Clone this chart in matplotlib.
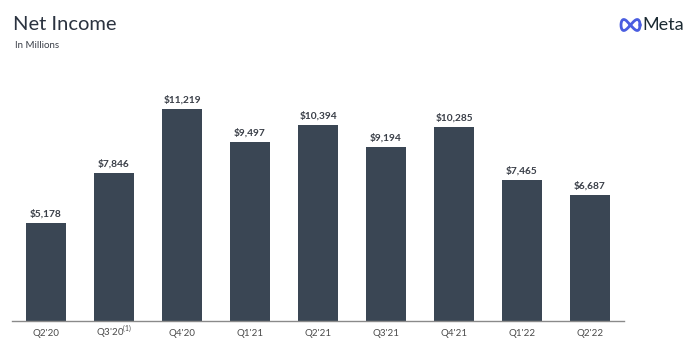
import matplotlib
matplotlib.use("Agg")
import matplotlib.pyplot as plt
import numpy as np

categories = ["Q2'20", "Q3'20$^{(1)}$", "Q4'20", "Q1'21", "Q2'21", "Q3'21", "Q4'21", "Q1'22", "Q2'22"]
values = [5178, 7846, 11219, 9497, 10394, 9194, 10285, 7465, 6687]
labels = ["$5,178", "$7,846", "$11,219", "$9,497", "$10,394", "$9,194", "$10,285", "$7,465", "$6,687"]

plt.rcParams['font.family'] = ['Lato', 'DejaVu Sans']
plt.rcParams['mathtext.fontset'] = 'custom'
plt.rcParams['mathtext.rm'] = 'Lato'

fig = plt.figure(figsize=(7, 3.49), dpi=100)
ax = fig.add_axes([12/700, 28/349, 612/700, 231/349])

bar_color = '#3a4654'
x = np.arange(len(values))
bars = ax.bar(x, values, width=0.59, color=bar_color, zorder=2)
for xi, v, lab in zip(x, values, labels):
    ax.annotate(lab.replace('$', r'\$'), (xi, v), xytext=(0, 3), textcoords='offset points',
                ha='center', va='bottom', fontsize=7.3, fontweight='bold', color='#3a3f48')

ax.set_xlim(-0.5, 8.5)
ax.set_ylim(0, 12222)
for s in ['top', 'right', 'left']:
    ax.spines[s].set_visible(False)
ax.spines['bottom'].set_color('#8a8a8a')
ax.spines['bottom'].set_linewidth(1.0)
ax.set_yticks([])
ax.set_xticks(x)
ax.set_xticklabels(categories, fontsize=7, color='#4a4a4a')
for lbl in ax.get_xticklabels():
    lbl.set_va('baseline')
ax.tick_params(axis='x', length=0, pad=10.5)

fig.text(13/700, 1 - 25/349, "Net Income", fontsize=14.5, color='#2b3340', va='center', ha='left')
fig.text(15/700, 1 - 46/349, "In Millions", fontsize=7, color='#3a3f48', va='center', ha='left')

# Meta logo
t = np.linspace(0, 2*np.pi, 400)
lx = 630.5 + 9.5 * np.cos(t)
ly = 25 + 5.5 * np.sin(2*t)
fig.add_artist(plt.Line2D(lx/700, 1 - ly/349, color='#4a5de0', lw=2.0, transform=fig.transFigure))
fig.text(642/700, 1 - 25/349, "Meta", fontsize=13, color='#1c2b33', va='center', ha='left')

fig.savefig("out.png", dpi=100)
